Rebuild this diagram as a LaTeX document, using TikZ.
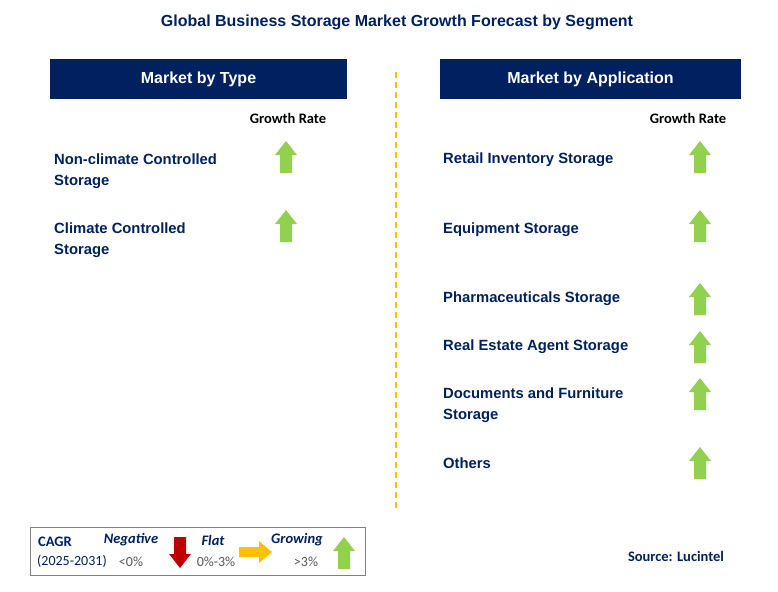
\documentclass[tikz,border=0pt]{standalone}
\usepackage{fontspec}
\setmainfont{Liberation Sans}
\newfontfamily\calib{Carlito}
\usetikzlibrary{positioning}
\definecolor{navy}{RGB}{0,32,96}
\definecolor{upgreen}{RGB}{146,208,80}
\definecolor{downred}{RGB}{192,0,0}
\definecolor{flatgold}{RGB}{255,192,0}
\definecolor{txtgray}{RGB}{89,89,89}

\tikzset{
  header/.style={fill=navy, text=white, font=\bfseries\fontsize{16}{18}\selectfont, minimum width=297pt, minimum height=40pt, inner sep=0pt},
  item/.style={anchor=west, align=left, text=navy, font=\bfseries\fontsize{14.8}{21}\selectfont, inner sep=0pt},
  rate/.style={font=\calib\bfseries\fontsize{14.5}{16}\selectfont, inner sep=0pt},
  legtxt/.style={font=\calib\fontsize{14}{16}\selectfont, text=navy, inner sep=0pt},
  legbold/.style={font=\calib\bfseries\itshape\fontsize{14.5}{16}\selectfont, text=navy, inner sep=0pt},
  upbar/.pic={\fill[upgreen] (-11,0) -- (0,-14) -- (11,0) -- (6,0) -- (6,18) -- (-6,18) -- (-6,0) -- cycle;}
}

\begin{document}
\begin{tikzpicture}[x=1pt, y=-1pt]
    \useasboundingbox (0,0) rectangle (778,591);

    % Title
    \node[text=navy, font=\bfseries\fontsize{16}{18}\selectfont] (title) at (397,22) {Global Business Storage Market Growth Forecast by Segment};

    % Headers
    \node[header] (typehead) at (198.5,79) {Market by Type};
    \node[header, minimum width=301pt] (apphead) at (590.5,79) {Market by Application};
    \draw[flatgold, dash pattern=on 6pt off 4pt, line width=1.5pt] (396,72) -- (396,510);

    % Market by type
    \node[rate] (rateL) at (288,118) {Growth Rate};
    \node[item] (nonclim) at (54,171) {Non-climate Controlled\\Storage};
    \node[item] (clim) at (54,240) {Climate Controlled\\Storage};
    \pic at (286,155) {upbar};
    \pic at (286,224) {upbar};

    % Market by application
    \node[rate] (rateR) at (688,118) {Growth Rate};
    \node[item] (retail) at (443,159.5) {Retail Inventory Storage};
    \node[item] (equip) at (443,229.5) {Equipment Storage};
    \node[item] (pharma) at (443,298.5) {Pharmaceuticals Storage};
    \node[item] (estate) at (443,346.5) {Real Estate Agent Storage};
    \node[item] (docs) at (443,405) {Documents and Furniture\\Storage};
    \node[item] (others) at (443,463.5) {Others};
    \foreach \y in {155,224,297,345,392,461}
        \pic at (700,\y) {upbar};

    % Legend
    \draw[gray, thick] (30,527) rectangle (365,575);
    \node[legtxt, font=\calib\bfseries\fontsize{14.5}{16}\selectfont, anchor=west] (cagr) at (38,542) {CAGR};
    \node[legtxt, anchor=west] (years) at (37,561) {(2025-2031)};
    \node[legbold] (neg) at (131,540) {Negative};
    \node[legtxt, text=txtgray] (negval) at (131,562) {<0\%};
    \fill[downred] (174,537) -- (186,537) -- (186,554) -- (191,554) -- (180,568) -- (169,554) -- (174,554) -- cycle;
    \node[legbold] (flat) at (213,540) {Flat};
    \node[legtxt, text=txtgray] (flatval) at (216,562) {0\%-3\%};
    \fill[flatgold] (239,547) -- (259,547) -- (259,541) -- (272,552) -- (259,563) -- (259,557) -- (239,557) -- cycle;
    \node[legbold] (grow) at (297,540) {Growing};
    \node[legtxt, text=txtgray] (growval) at (306,562) {>3\%};
    \pic at (344,551) {upbar};

    % Source
    \node[legtxt, font=\calib\bfseries\fontsize{14.5}{16}\selectfont] (source) at (676,556) {Source: Lucintel};
\end{tikzpicture}
\end{document}
